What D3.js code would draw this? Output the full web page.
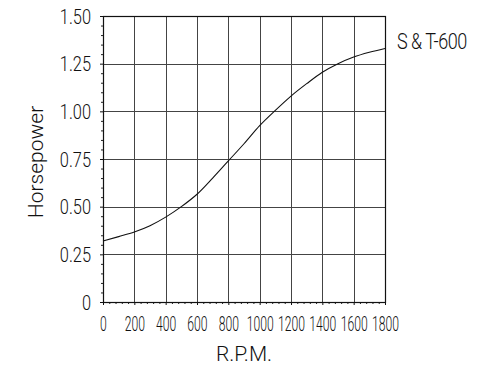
<!DOCTYPE html>
<html><head><meta charset="utf-8">
<script src="https://cdn.jsdelivr.net/npm/d3@7"></script>
<style>
html,body{margin:0;padding:0;background:#fff;}
svg{display:block;}
text{font-family:Roboto,"Liberation Sans",Arial,sans-serif;font-weight:300;fill:#111;}
</style></head>
<body>
<script>
const rpm = [0,100,200,300,400,500,600,700,800,900,1000,1100,1200,1300,1400,1500,1600,1700,1800];
const hp  = [0.32,0.343,0.367,0.40,0.445,0.50,0.565,0.65,0.74,0.83,0.925,1.005,1.08,1.145,1.205,1.25,1.285,1.31,1.33];
const xTicks = [0,200,400,600,800,1000,1200,1400,1600,1800];
const yTicks = [0,0.25,0.5,0.75,1.0,1.25,1.5];
const yTickLabels = ["0","0.25","0.50","0.75","1.00","1.25","1.50"];
const seriesName = "S & T-600";
const xTitle = "R.P.M.";
const yTitle = "Horsepower";

const W = 484, H = 366;
const m = {left:103, top:16, right:99, bottom:64};
const iw = W - m.left - m.right, ih = H - m.top - m.bottom;

const svg = d3.select("body").append("svg").attr("width",W).attr("height",H);
const g = svg.append("g").attr("transform",`translate(${m.left},${m.top})`);

const x = d3.scaleLinear().domain([0,1800]).range([0,iw]);
const y = d3.scaleLinear().domain([0,1.5]).range([ih,0]);

// grid
g.append("g").selectAll("line").data(xTicks.slice(1,-1)).join("line")
  .attr("x1",d=>Math.round(x(d))+0.5).attr("x2",d=>Math.round(x(d))+0.5)
  .attr("y1",0).attr("y2",ih).attr("stroke","#444").attr("stroke-width",1);
g.append("g").selectAll("line").data(yTicks.slice(1,-1)).join("line")
  .attr("y1",d=>Math.round(y(d))+0.5).attr("y2",d=>Math.round(y(d))+0.5)
  .attr("x1",0).attr("x2",iw).attr("stroke","#444").attr("stroke-width",1);

// minor ticks
const xMinor = d3.range(0,1801,40).filter(v=>v%200!==0);
const yMinor = d3.range(0,31).map(i=>i*0.05).filter((v,i)=>i%5!==0);
g.append("g").attr("transform",`translate(0,${ih})`)
  .call(d3.axisBottom(x).tickValues(xMinor).tickSize(2).tickFormat(""))
  .call(a=>a.select(".domain").remove())
  .call(a=>a.selectAll("line").attr("stroke","#222"));
g.append("g")
  .call(d3.axisLeft(y).tickValues(yMinor).tickSize(2).tickFormat(""))
  .call(a=>a.select(".domain").remove())
  .call(a=>a.selectAll("line").attr("stroke","#222"));

// major axes
const xa = g.append("g").attr("transform",`translate(0,${ih})`)
  .call(d3.axisBottom(x).tickValues(xTicks).tickSize(3).tickSizeOuter(0).tickPadding(4).tickFormat(d3.format("d")));
xa.select(".domain").remove();
xa.selectAll("line").attr("stroke","#111");
xa.selectAll("text").attr("font-size",21).attr("fill","#111")
  .each(function(){
    const t = d3.select(this);
    t.attr("y",null).attr("dy",null).attr("x",null)
     .attr("transform","translate(0,29) scale(0.58,1)");
  });

const ya = g.append("g")
  .call(d3.axisLeft(y).tickValues(yTicks).tickSize(3).tickSizeOuter(0).tickPadding(4).tickFormat((d,i)=>yTickLabels[i]));
ya.select(".domain").remove();
ya.selectAll("line").attr("stroke","#111");
ya.selectAll("text").attr("font-size",20).attr("fill","#111")
  .each(function(){
    const t = d3.select(this);
    t.attr("x",null).attr("dy",null)
     .attr("transform","translate(-12,7) scale(0.82,1)");
  });

// frame
g.append("rect").attr("x",0.5).attr("y",0.5).attr("width",iw).attr("height",ih)
  .attr("fill","none").attr("stroke","#111").attr("stroke-width",1.2);

// curve
const line = d3.line().x((d,i)=>x(rpm[i])).y(d=>y(d)).curve(d3.curveMonotoneX);
g.append("path").datum(hp).attr("d",line).attr("fill","none").attr("stroke","#111").attr("stroke-width",1.1);

// series label
g.append("text").attr("x",0).attr("y",0)
  .attr("font-size",22).attr("letter-spacing",-0.6)
  .attr("transform",`translate(${iw+12},${y(hp[hp.length-1])+1}) scale(0.82,1)`)
  .text(seriesName);

// titles
svg.append("text").attr("x",m.left+iw/2).attr("y",361).attr("text-anchor","middle")
  .attr("font-size",21).text(xTitle);
svg.append("text").attr("transform",`translate(43,${m.top+ih/2+3}) rotate(-90)`)
  .attr("text-anchor","middle").attr("font-size",21).text(yTitle);
</script>
</body></html>
